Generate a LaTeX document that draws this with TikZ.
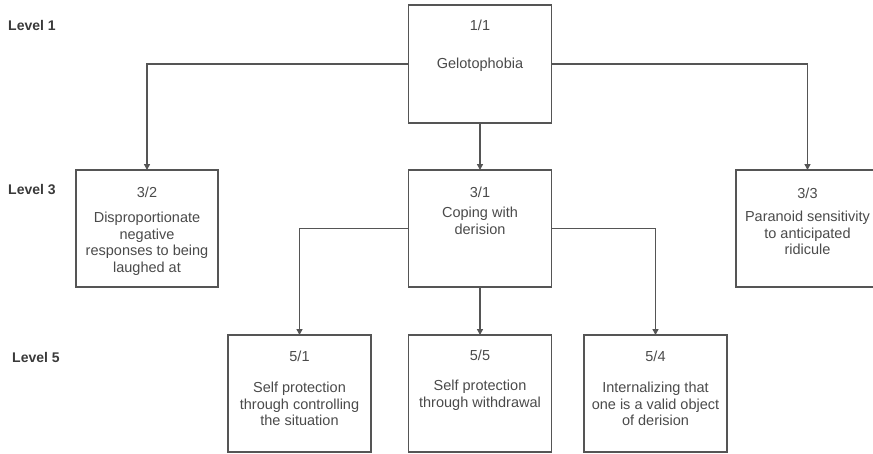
\documentclass[tikz,border=0pt]{standalone}
\usepackage{fontspec}
\setmainfont{Liberation Sans}
\usetikzlibrary{arrows.meta}
\definecolor{linegray}{HTML}{555555}
\definecolor{textgray}{HTML}{4A4A4A}
\definecolor{labelgray}{HTML}{3A3A3A}
\begin{document}
\begin{tikzpicture}[x=1pt,y=-1pt,
  box/.style={draw=linegray, line width=1.6pt, minimum width=143pt, minimum height=117pt, inner sep=0pt, outer sep=0pt},
  num/.style={text=textgray, font=\fontsize{14.5}{17}\selectfont, inner sep=0pt},
  body/.style={text=textgray, font=\fontsize{14.5}{16.8}\selectfont, align=center, inner sep=0pt, anchor=north},
  lvl/.style={text=labelgray, font=\bfseries\fontsize{14}{16}\selectfont, inner sep=0pt, anchor=west},
  arr/.style={draw=linegray, line width=1.5pt, -{Triangle[length=6pt,width=6pt]}}
]
\useasboundingbox (0,0) rectangle (873,453);
\begin{scope}
\clip (0,0) rectangle (873,453);
% boxes
\node[box, minimum height=118pt] (top) at (480,64) {};
\node[box, minimum width=142pt] (l32) at (147,228.5) {};
\node[box] (m31) at (480,228.5) {};
\node[box] (r33) at (807.5,228.5) {};
\node[box] (b51) at (299.5,393.5) {};
\node[box] (b55) at (480,393.5) {};
\node[box] (b54) at (655.5,393.5) {};
\end{scope}

% level labels
\node[lvl] (lv1) at (8,25) {Level 1};
\node[lvl] (lv3) at (8,190) {Level 3};
\node[lvl] (lv5) at (12,357) {Level 5};

% texts
\node[num] (t11) at (480,25) {1/1};
\node[num] (t11b) at (480,65) {Gelotophobia};

\node[num] (t32) at (147,192) {3/2};
\node[body] (t32b) at (147,211.5) {Disproportionate\\negative\\responses to being\\laughed at};

\node[num] (t31) at (480,192) {3/1};
\node[body] (t31b) at (480,206.5) {Coping with\\derision};

\node[num] (t33) at (807.5,193) {3/3};
\node[body] (t33b) at (807.5,210.5) {Paranoid sensitivity\\to anticipated\\ridicule};

\node[num] (t51) at (299.5,356) {5/1};
\node[body] (t51b) at (299.5,381.5) {Self protection\\through controlling\\the situation};

\node[num] (t55) at (480,355) {5/5};
\node[body] (t55b) at (480,379.5) {Self protection\\through withdrawal};

\node[num] (t54) at (655.5,356) {5/4};
\node[body] (t54b) at (655.5,381.5) {Internalizing that\\one is a valid object\\of derision};

% connectors
\draw[arr] (top.west) -| (l32.north);
\draw[arr] (top.east) -| (r33.north);
\draw[arr] (top.south) -- (m31.north);
\draw[arr] (m31.west) -| (b51.north);
\draw[arr] (m31.east) -| (b54.north);
\draw[arr] (m31.south) -- (b55.north);
\end{tikzpicture}
\end{document}
